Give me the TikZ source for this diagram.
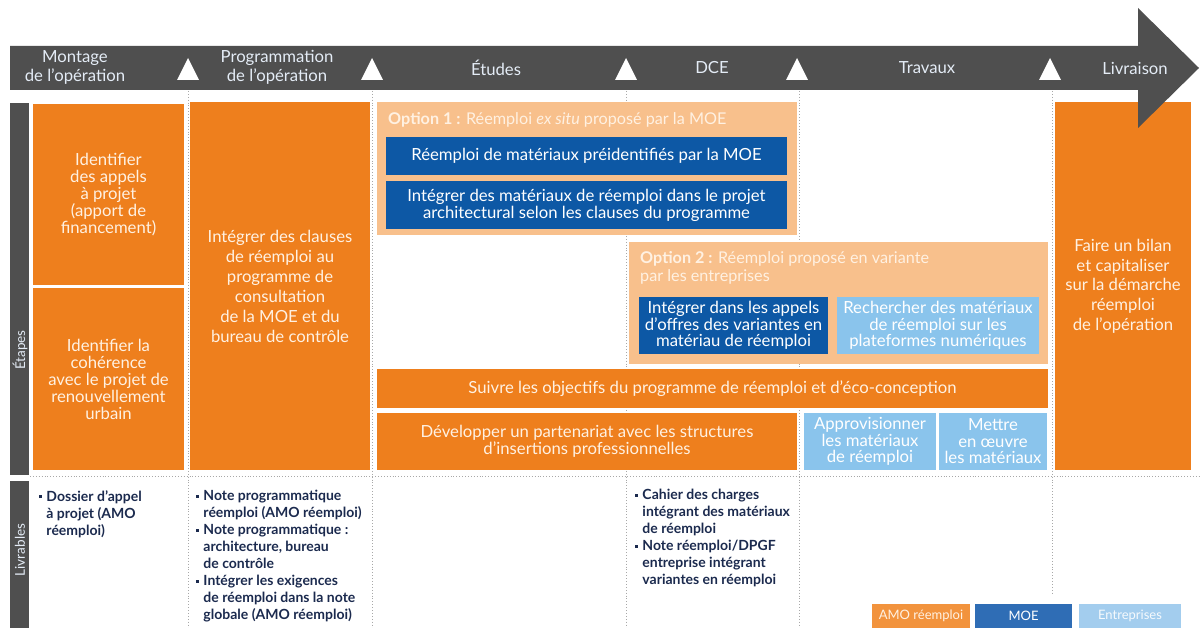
\documentclass[tikz,border=0pt]{standalone}
\usepackage{fontspec}
\setmainfont{Lato}
\definecolor{orng}{HTML}{EE7F1D}
\definecolor{lorng}{HTML}{F8C08C}
\definecolor{dblue}{HTML}{0D58A5}
\definecolor{lblue}{HTML}{8AC4EC}
\definecolor{hdr}{HTML}{4F4F4F}
\definecolor{hdrtxt}{HTML}{E4ECF6}
\definecolor{cream}{HTML}{FFF1E2}
\definecolor{navy}{HTML}{1B2A4E}
\definecolor{legorng}{HTML}{F2933D}
\definecolor{legblue}{HTML}{2F6DB5}
\definecolor{leglblue}{HTML}{A3CDEE}
\definecolor{dotgrey}{HTML}{A8A8A8}
% box spanning the corners (x1,y1)-(x2,y2)
\newcommand\bx[7]{\node[#6, minimum width={(#4-#2)*1pt}, minimum height={(#5-#3)*1pt}] (#1) at (#2,#3) {#7};}
% small square bullet and the matching indent for continuation lines
\newcommand\sqbul{\raisebox{0.2em}{\rule{0.22em}{0.22em}}\hspace{0.3em}}
\newcommand\sqind{\hphantom{\sqbul}}
\begin{document}
\begin{tikzpicture}[x=1pt,y=-1pt,
  base/.style={inner sep=0pt, outer sep=0pt, align=center, anchor=north west,
    font=\fontsize{16.7}{18}\selectfont},
  obox/.style={base, fill=orng, text=cream},
  optbox/.style={base, fill=lorng},
  dbox/.style={base, fill=dblue, text=white},
  lbox/.style={base, fill=lblue, text=white},
  hdrlabel/.style={text=hdrtxt, align=center, font=\fontsize{16.7}{19}\selectfont},
  sidebar/.style={base, fill=hdr},
  sidelabel/.style={rotate=90, text=hdrtxt, font=\fontsize{13.5}{15}\selectfont},
  opttitle/.style={anchor=north west, inner sep=0pt, text=cream, align=left,
    font=\fontsize{16.2}{18}\selectfont},
  deliv/.style={anchor=north west, inner sep=0pt, text=navy, align=left,
    font=\bfseries\fontsize{14}{17}\selectfont},
  legend/.style={base, font=\fontsize{13}{14}\selectfont},
  dotline/.style={draw=dotgrey, dotted, line width=0.9pt},
  marker/.style={fill=white}
]
\useasboundingbox (0,0) rectangle (1200,628);

% phase separators and row separator
\draw[dotline] (188,91) -- (188,628);
\draw[dotline] (372,91) -- (372,628);
\draw[dotline] (626,91) -- (626,628);
\draw[dotline] (799,91) -- (799,628);
\draw[dotline] (1052,91) -- (1052,593);
\draw[dotline] (30,476) -- (1200,476);

% side bars
\bx{etapes}{10}{103}{29}{475}{sidebar}{}
\bx{livrables}{10}{481}{29}{628}{sidebar}{}
\node[sidelabel] (etapesl) at (20,350) {Étapes};
\node[sidelabel] (livrablesl) at (20,550) {Livrables};

% montage
\bx{appels}{33}{104}{184}{285}{obox, font=\fontsize{16.7}{17}\selectfont}{Identifier\\des appels\\à projet\\(apport de\\financement)}
\bx{coherence}{33}{288}{184}{470}{obox, font=\fontsize{16.7}{17}\selectfont}{Identifier la\\cohérence\\avec le projet de\\renouvellement\\urbain}

% programmation
\bx{clauses}{190}{102}{370}{470}{obox, font=\fontsize{16.7}{20}\selectfont}{Intégrer des clauses\\de réemploi au\\programme de\\consultation\\de la MOE et du\\bureau de contrôle}

% option 1
\bx{opt1}{377}{102}{797}{235}{optbox}{}
\node[opttitle] (opt1t) at (388,112) {\textbf{Option 1 :} Réemploi \textit{ex situ} proposé par la MOE};
\bx{preid}{386}{137}{787}{175}{dbox}{Réemploi de matériaux préidentifiés par la MOE}
\bx{integ}{386}{181}{787}{229}{dbox, font=\fontsize{16.7}{17}\selectfont}{Intégrer des matériaux de réemploi dans le projet\\architectural selon les clauses du programme}

% option 2
\bx{opt2}{629}{242}{1048}{364}{optbox}{}
\node[opttitle] (opt2t) at (640,251) {\textbf{Option 2 :} Réemploi proposé en variante\\par les entreprises};
\bx{variantes}{639}{297}{828}{354}{dbox, font=\fontsize{16.7}{16.5}\selectfont}{Intégrer dans les appels\\d’offres des variantes en\\matériau de réemploi}
\bx{recherche}{837}{297}{1039}{354}{lbox, font=\fontsize{16.7}{16.5}\selectfont}{Rechercher des matériaux\\de réemploi sur les\\plateformes numériques}

% suivi, partenariat, travaux
\bx{suivre}{377}{369}{1048}{408}{obox}{Suivre les objectifs du programme de réemploi et d’éco-conception}
\bx{partenariat}{377}{413}{797}{470}{obox, font=\fontsize{16.7}{17}\selectfont}{Développer un partenariat avec les structures\\d’insertions professionnelles}
\bx{approv}{804}{413}{936}{470}{lbox, font=\fontsize{16.7}{16.5}\selectfont}{Approvisionner\\les matériaux\\de réemploi}
\bx{oeuvre}{939}{413}{1047}{470}{lbox, font=\fontsize{16.7}{16.5}\selectfont}{Mettre\\en œuvre\\les matériaux}

% livraison
\bx{bilan}{1055}{102}{1191}{470}{obox, font=\fontsize{16.7}{19.7}\selectfont}{Faire un bilan\\et capitaliser\\sur la démarche\\réemploi\\de l’opération}

% deliverables
\node[deliv] (d1) at (39,490) {\sqbul Dossier d’appel\\\sqind à projet (AMO\\\sqind réemploi)};
\node[deliv] (d2) at (196,490) {\sqbul Note programmatique\\\sqind réemploi (AMO réemploi)\\\sqbul Note programmatique :\\\sqind architecture, bureau\\\sqind de contrôle\\\sqbul Intégrer les exigences\\\sqind de réemploi dans la note\\\sqind globale (AMO réemploi)};
\node[deliv] (d3) at (635,489) {\sqbul Cahier des charges\\\sqind intégrant des matériaux\\\sqind de réemploi\\\sqbul Note réemploi/DPGF\\\sqind entreprise intégrant\\\sqind variantes en réemploi};

% legend
\bx{legamo}{872}{604}{970}{628}{legend, fill=legorng, text=cream}{AMO réemploi}
\bx{legmoe}{975}{604}{1072}{628}{legend, fill=legblue, text=white}{MOE}
\bx{legent}{1079}{604}{1181}{628}{legend, fill=leglblue, text=white!90!leglblue}{Entreprises}

% timeline arrow
\fill[hdr] (10,46) -- (1138,46) -- (1138,8) -- (1199,68) -- (1138,128) -- (1138,90) -- (10,90) -- cycle;
\foreach \mx in {188,372,626,797,1050}
  \fill[marker] (\mx-11,80) -- (\mx+11,80) -- (\mx,58) -- cycle;
\node[hdrlabel] (montage) at (75,67) {Montage\\de l'opération};
\node[hdrlabel] (programmation) at (277,67) {Programmation\\de l'opération};
\node[hdrlabel] (etudes) at (496,68) {Études};
\node[hdrlabel] (dce) at (712,68) {DCE};
\node[hdrlabel] (travaux) at (927,68) {Travaux};
\node[hdrlabel] (livraison) at (1135,68) {Livraison};
\end{tikzpicture}
\end{document}
